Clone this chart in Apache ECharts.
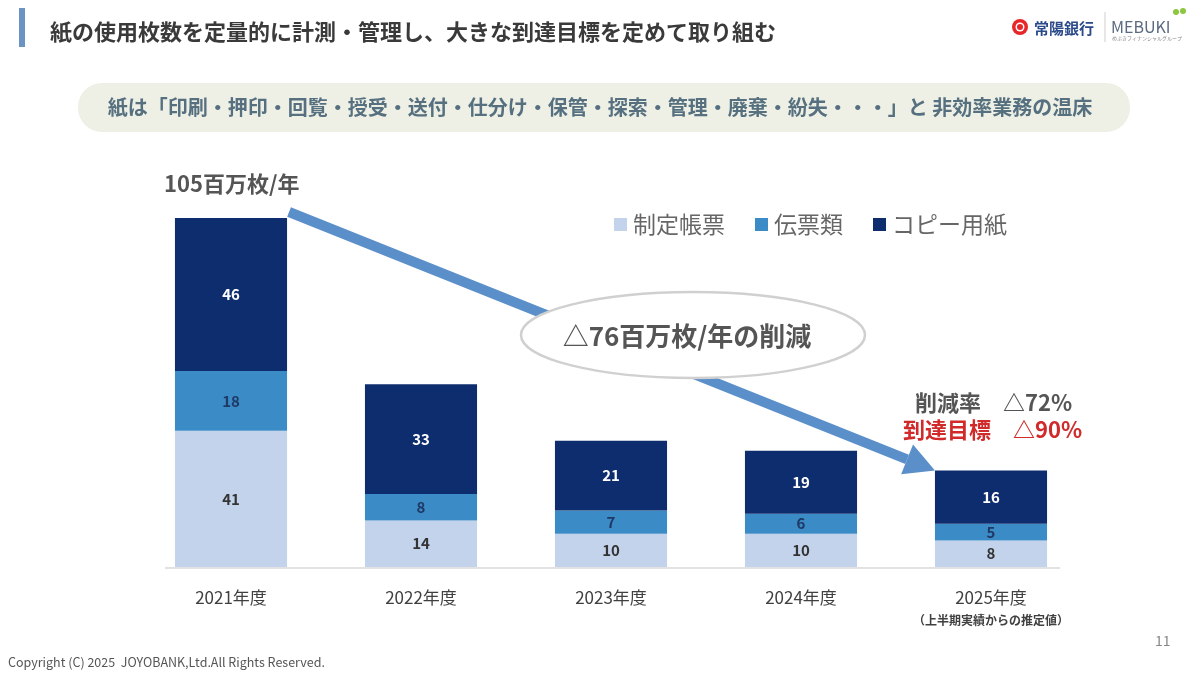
<!DOCTYPE html>
<html><head><meta charset="utf-8">
<script src="https://cdn.jsdelivr.net/npm/echarts@6/dist/echarts.min.js"></script>
<style>html,body{margin:0;padding:0;background:#fff}#c{width:1200px;height:675px}</style>
</head><body><div id="c"></div>
<script>
const categories = ["2021年度","2022年度","2023年度","2024年度","2025年度"];
const categoryNotes = ["","","","","（上半期実績からの推定値）"];
const seriesNames = ["制定帳票","伝票類","コピー用紙"];
const seiteiChohyo = [41,14,10,10,8];
const denpyo = [18,8,7,6,5];
const copyYoshi = [46,33,21,19,16];
const totalLabel = "105百万枚/年";
const reductionText = "△76百万枚/年の削減";
const rateLabel = "削減率", rateValue = "△72%";
const targetLabel = "到達目標", targetValue = "△90%";

const FONT = '"Noto Sans CJK JP","Noto Sans",sans-serif';
const colors = ["#c3d3ec","#3b8bc6","#0e2d6e"];
const labelColors = ["#333333","#1f3864","#ffffff"];

const chart = echarts.init(document.getElementById('c'));
const GRID = {left:136, right:114, top:218, bottom:108};

function mkSeries(name, data, i){
  return {
    name, type:'bar', stack:'total', data, barWidth:'59%',
    itemStyle:{color:colors[i]},
    label:{show:true, position:'inside', color:labelColors[i], fontFamily:FONT, fontSize:15, fontWeight:'bold'},
    emphasis:{disabled:true}, z:5
  };
}

chart.setOption({
  animation:false,
  textStyle:{fontFamily:FONT},
  grid:GRID,
  legend:{
    left:609, top:208, itemWidth:13, itemHeight:13, itemGap:30, icon:'rect',
    textStyle:{fontFamily:FONT, fontSize:23, color:'#666666', padding:[0,0,0,1]},
    data:seriesNames
  },
  xAxis:{
    type:'category', data:categories,
    axisLine:{show:false}, axisTick:{show:false},
    axisLabel:{
      interval:0, margin:19, color:'#404040', fontSize:17, fontFamily:FONT, lineHeight:24,
      formatter:(v,i)=> categoryNotes[i] ? v+'\n{n|'+categoryNotes[i]+'}' : v,
      rich:{n:{fontSize:12, fontWeight:'bold', color:'#404040', fontFamily:FONT, lineHeight:20}}
    }
  },
  yAxis:{type:'value', min:0, max:105, show:false, splitLine:{show:false}},
  series:[mkSeries(seriesNames[0],seiteiChohyo,0), mkSeries(seriesNames[1],denpyo,1), mkSeries(seriesNames[2],copyYoshi,2)]
});

// anchor annotations to bar geometry
const totals = categories.map((_,i)=>seiteiChohyo[i]+denpyo[i]+copyYoshi[i]);
const p0 = chart.convertToPixel({gridIndex:0},[0,totals[0]]);
const p4 = chart.convertToPixel({gridIndex:0},[4,totals[4]]);
const base0 = chart.convertToPixel({gridIndex:0},[0,0]);
const base4 = chart.convertToPixel({gridIndex:0},[4,0]);
const band = (p4[0]-p0[0])/4;
const halfW = band*0.59/2;
const start = [p0[0]+halfW+2, p0[1]-6];
const tip = [p4[0]-halfW, p4[1]];
const dx = tip[0]-start[0], dy = tip[1]-start[1];
const L = Math.sqrt(dx*dx+dy*dy), ux=dx/L, uy=dy/L, px=-uy, py=ux;
const headLen = 30, headHalf = 16;
const hb = [tip[0]-ux*headLen, tip[1]-uy*headLen];

function txt(x,y,text,font,fill,align,z){
  return {type:'text', x, y, z:z||12, style:{text, font, fill, align:align||'left', verticalAlign:'middle', textAlign:align||'left', textVerticalAlign:'middle'}};
}

chart.setOption({
  graphic:[
    // title bar
    {type:'rect', shape:{x:19,y:8,width:6,height:39}, style:{fill:'#6b94c4'}},
    txt(50,32,'紙の使用枚数を定量的に計測・管理し、大きな到達目標を定めて取り組む','bold 22px '+FONT,'#3a3a3a'),
    // logo
    {type:'circle', shape:{cx:1020,cy:27,r:8}, style:{fill:'#e8262a'}},
    {type:'circle', shape:{cx:1020,cy:27,r:4.5}, style:{fill:'#fff'}},
    {type:'circle', shape:{cx:1020,cy:27,r:3}, style:{fill:'#e8262a'}},
    txt(1034,28,'常陽銀行','bold 15px '+FONT,'#2b4a8a'),
    {type:'line', shape:{x1:1105,y1:12,x2:1105,y2:42}, style:{stroke:'#cfcfcf', lineWidth:1}},
    txt(1111,27,'MEBUKI','16px '+FONT,'#5a6a80'),
    txt(1112,38,'めぶきフィナンシャルグループ','5px '+FONT,'#888'),
    {type:'circle', shape:{cx:1176,cy:12,r:3}, style:{fill:'#8dc63f'}},
    {type:'circle', shape:{cx:1183,cy:11,r:3}, style:{fill:'#8dc63f'}},
    // banner
    {type:'rect', shape:{x:78,y:83,width:1052,height:49,r:24}, style:{fill:'#eef0e6'}},
    txt(600,107,'紙は「印刷・押印・回覧・授受・送付・仕分け・保管・探索・管理・廃棄・紛失・・・」と 非効率業務の温床','bold 20px '+FONT,'#56707f','center'),
    // total label
    txt(164,184,totalLabel,'bold 22px '+FONT,'#555'),
    // axis base line
    {type:'line', shape:{x1:base0[0]-halfW-10, y1:base0[1]+1, x2:base4[0]+halfW+13, y2:base0[1]+1}, style:{stroke:'#d9d9d9', lineWidth:1.5}, z:3},
    // arrow
    {type:'line', shape:{x1:start[0],y1:start[1],x2:hb[0],y2:hb[1]}, style:{stroke:'#5b8fc9', lineWidth:10}, z:10},
    {type:'polygon', shape:{points:[tip,[hb[0]+px*headHalf,hb[1]+py*headHalf],[hb[0]-px*headHalf,hb[1]-py*headHalf]]}, style:{fill:'#5b8fc9'}, z:10},
    // ellipse
    {type:'ellipse', shape:{cx:693,cy:335,rx:172,ry:43}, style:{fill:'#fff', stroke:'#d0d0d0', lineWidth:2.5}, z:11},
    txt(687,336,reductionText,'bold 26px '+FONT,'#555','center'),
    // rates
    txt(915,403,rateLabel,'bold 22px '+FONT,'#555'),
    txt(1003,403,rateValue,'bold 22px '+FONT,'#555'),
    txt(903,430,targetLabel,'bold 22px '+FONT,'#d02a2a'),
    txt(1013,430,targetValue,'bold 22px '+FONT,'#d02a2a'),
    // footer
    txt(1155,641,'11','14px '+FONT,'#888'),
    txt(8,662,'Copyright (C) 2025  JOYOBANK,Ltd.All Rights Reserved.','12.5px '+FONT,'#555')
  ]
});
</script></body></html>
